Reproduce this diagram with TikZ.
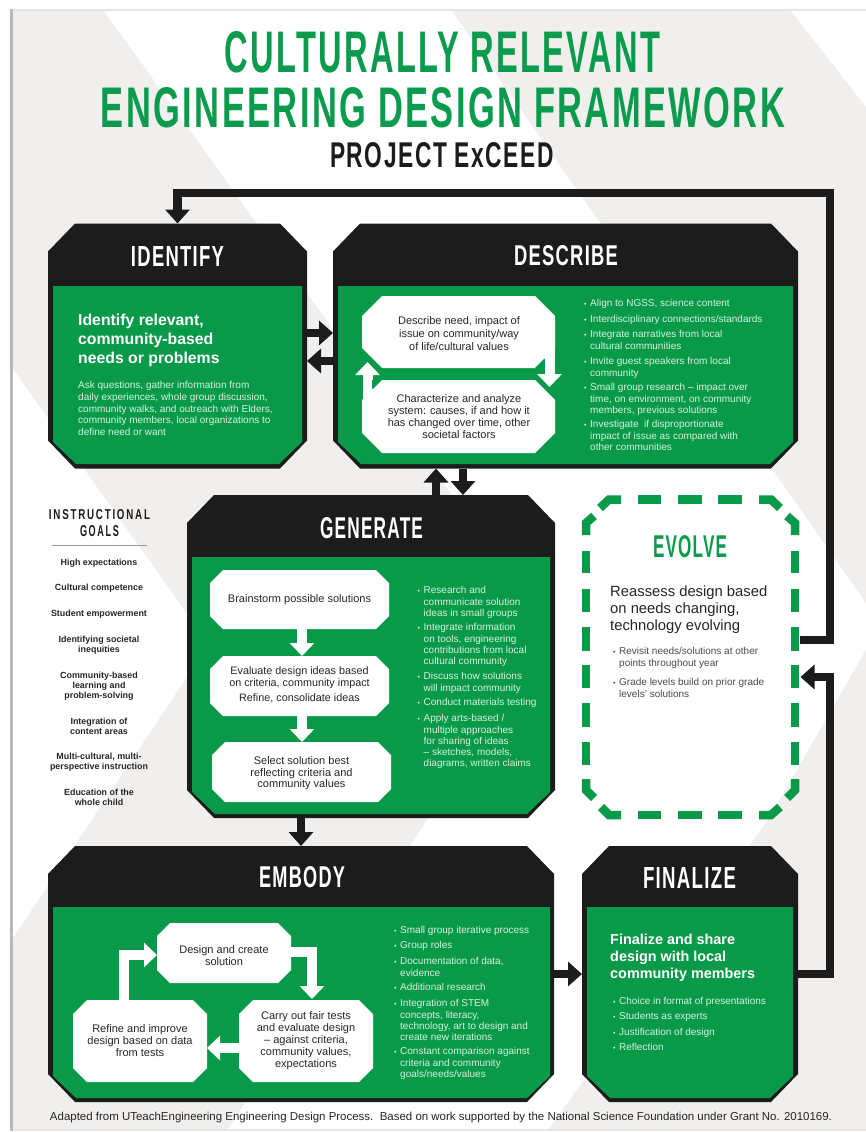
\documentclass[tikz,border=0pt]{standalone}
\usepackage{fontspec}
\usepackage{graphicx}
\setmainfont{Liberation Sans}
\newfontfamily\spacedfont[LetterSpace=18]{Liberation Sans}
\newfontfamily\capfont[LetterSpace=7]{Liberation Sans}
\usetikzlibrary{arrows.meta,calc}
\definecolor{grn}{HTML}{089A48}
\definecolor{ttl}{HTML}{0A9B4C}
\definecolor{blk}{HTML}{1D1C1C}
\definecolor{bggray}{HTML}{F0EFEE}
\definecolor{soft}{HTML}{D9F0DF}
\definecolor{ink}{HTML}{262626}
\definecolor{inkb}{HTML}{4A4A4A}
\newcounter{tn}
\newcommand{\fitbox}[3]{\resizebox{#1pt}{#2pt}{\capfont\bfseries #3}}
\newcommand{\bul}[4]{\stepcounter{tn}\node[bulnode,#1] (b\arabic{tn}) at (#2,#3) {\llap{\scalebox{.7}{•}\hspace{3.6pt}}#4};}
\newcommand{\chamall}[4]{\fill[#2] ($(#1.north west)+(#3,0)$) -- ($(#1.north east)+(-#3,0)$) -- ($(#1.north east)+(0,#4)$) -- ($(#1.south east)+(0,-#4)$) -- ($(#1.south east)+(-#3,0)$) -- ($(#1.south west)+(#3,0)$) -- ($(#1.south west)+(0,-#4)$) -- ($(#1.north west)+(0,#4)$) -- cycle;}
\newcommand{\chambot}[4]{\fill[#2] (#1.north west) -- (#1.north east) -- ($(#1.south east)+(0,-#4)$) -- ($(#1.south east)+(-#3,0)$) -- ($(#1.south west)+(#3,0)$) -- ($(#1.south west)+(0,-#4)$) -- cycle;}
\tikzset{
  boxn/.style={rectangle,draw=none,inner sep=0pt,outer sep=0pt},
  lbl/.style={inner sep=0pt,outer sep=0pt},
  wtxt/.style={inner sep=0pt,align=center,text=ink,font=\fontsize{11}{12}\selectfont},
  goal/.style={inner sep=0pt,align=center,text=ink,font=\bfseries\fontsize{8.9}{10}\selectfont},
  bulnode/.style={anchor=north west,yshift=3.6pt,inner sep=0pt,align=left,text=soft,font=\fontsize{10}{11.2}\selectfont},
  darkbul/.style={text=inkb},
  bigarrow/.style={draw=blk,line width=8.5pt,-{Triangle[width=24pt,length=14pt]}},
  wharrow/.style={draw=white,line width=10pt,-{Triangle[width=24pt,length=13pt]}},
  evd/.style={draw=grn,line width=8.5pt},
}
\begin{document}
\begin{tikzpicture}[x=1pt,y=-1pt]
\useasboundingbox (0,0) rectangle (866,1132);
% page
\fill[white] (0,0) rectangle (866,1132);
\fill[black!10] (10,9) rectangle (866,1131);
\fill[black!28] (10,9) rectangle (13,1131);
\fill[white] (13,11) rectangle (866,1129);
% background bands
\fill[bggray] (13,11) -- (104,11) -- (549,630) -- (228,1129) -- (13,1129) -- (13,938) -- (209,644) -- (13,369) -- cycle;
\fill[bggray] (452,11) -- (791,11) -- (866,107) -- (866,603) -- cycle;
\fill[bggray] (866,650) -- (768,820) -- (549,1129) -- (866,1129) -- cycle;
% title
\node[lbl,text=ttl] (title1) at (442.5,52.5) {\fitbox{435}{41}{CULTURALLY RELEVANT}};
\node[lbl,text=ttl] (title2) at (443,107.5) {\fitbox{684}{40}{ENGINEERING DESIGN FRAMEWORK}};
\node[lbl,text=blk] (title3) at (442,155.5) {\fitbox{224}{25}{PROJECT ExCEED}};
% boxes
\node[boxn,minimum width=259pt,minimum height=245pt] (identify) at (177.5,346) {};
\chamall{identify}{blk}{27}{28}
\node[boxn,minimum width=249pt,minimum height=178pt] (identifyg) at (177.5,375) {};
\chambot{identifyg}{grn}{23}{22}
\node[boxn,minimum width=465pt,minimum height=245pt] (describe) at (565.5,346) {};
\chamall{describe}{blk}{27}{28}
\node[boxn,minimum width=455pt,minimum height=178pt] (describeg) at (565.5,375) {};
\chambot{describeg}{grn}{23}{22}
\node[boxn,minimum width=368pt,minimum height=323pt] (generate) at (371,656.5) {};
\chamall{generate}{blk}{27}{28}
\node[boxn,minimum width=358pt,minimum height=257pt] (generateg) at (371,685.5) {};
\chambot{generateg}{grn}{23}{22}
\node[boxn,minimum width=506pt,minimum height=256pt] (embody) at (301,974) {};
\chamall{embody}{blk}{27}{28}
\node[boxn,minimum width=497pt,minimum height=191pt] (embodyg) at (301.5,1002.5) {};
\chambot{embodyg}{grn}{23}{22}
\node[boxn,minimum width=216pt,minimum height=256pt] (finalize) at (690,974) {};
\chamall{finalize}{blk}{27}{28}
\node[boxn,minimum width=206pt,minimum height=191pt] (finalizeg) at (690,1002.5) {};
\chambot{finalizeg}{grn}{23}{22}
% evolve outline
\node[boxn,minimum width=218pt,minimum height=323pt] (evolve) at (690.5,657.5) {};
\foreach \xa/\xb in {638/661,678/701.5,718/742}{
  \draw[evd] (\xa,499.5) -- (\xb,499.5);
  \draw[evd] (\xa,815) -- (\xb,815);
}
\foreach \ya/\yb in {551/573,589/612,627/651,665/688,703/727,742/765}{
  \draw[evd] (586,\ya) -- (586,\yb);
  \draw[evd] (795,\ya) -- (795,\yb);
}
\draw[evd] (600,508) -- (609,499.5) -- (621,499.5);
\draw[evd] (586,535) -- (586,523) -- (594,516);
\draw[evd] (759,499.5) -- (771,499.5) -- (780,508);
\draw[evd] (787,516) -- (795,523) -- (795,535);
\draw[evd] (586,779) -- (586,790) -- (594,798);
\draw[evd] (601,807) -- (609,815) -- (621,815);
\draw[evd] (759,815) -- (771,815) -- (780,807);
\draw[evd] (787,798) -- (795,790) -- (795,779);
% headers
\node[lbl,text=white] (hident) at (177.5,256) {\fitbox{93}{20}{IDENTIFY}};
\node[lbl,text=white] (hdesc) at (566,256) {\fitbox{104}{20}{DESCRIBE}};
\node[lbl,text=white] (hgen) at (371.5,528) {\fitbox{103}{21}{GENERATE}};
\node[lbl,text=ttl] (hevo) at (690,547) {\fitbox{74}{22}{EVOLVE}};
\node[lbl,text=white] (hemb) at (302,877.5) {\fitbox{86}{21}{EMBODY}};
\node[lbl,text=white] (hfin) at (689.5,877.5) {\fitbox{93}{21}{FINALIZE}};
% connectors
\draw[bigarrow] ($(evolve.east)+(0,-17.5)$) -- (830,640) -- (830,193) -- (177.5,193) -- (identify.north);
\draw[bigarrow] (finalize.east) -- (830,974) -- (830,677) -- ($(evolve.east)+(1,19.5)$);
\draw[bigarrow] ($(identify.east)+(0,-13)$) -- ($(describe.west)+(0,-13)$);
\draw[bigarrow] ($(describe.west)+(0,15)$) -- ($(identify.east)+(0,15)$);
\draw[bigarrow] ($(generate.north)+(65,0)$) -- ($(describe.south)+(-129.5,0)$);
\draw[bigarrow] ($(describe.south)+(-102.5,0)$) -- ($(generate.north)+(92,0)$);
\draw[bigarrow] ($(generate.south)+(-70,0)$) -- (embody.north);
\draw[bigarrow] (embody.east) -- (finalize.west);
% identify text
\node[inner sep=0pt,anchor=north west,align=left,text=white,font=\bfseries\fontsize{15.8}{18.9}\selectfont] (idh) at (78,314) {Identify relevant,\\community-based\\needs or problems};
\node[bulnode,font=\fontsize{10}{11.7}\selectfont] (idp) at (78,385) {Ask questions, gather information from\\daily experiences, whole group discussion,\\community walks, and outreach with Elders,\\community members, local organizations to\\define need or want};
% describe inner
\node[boxn,minimum width=193pt,minimum height=72pt] (da) at (458.5,332) {};
\chamall{da}{white}{20}{20}
\node[boxn,minimum width=193pt,minimum height=73pt] (db) at (458.5,416.5) {};
\chamall{db}{white}{20}{20}
\draw[wharrow] ($(da.south east)+(-5.5,-20)$) -- ($(db.north east)+(-5.5,7)$);
\draw[wharrow] ($(db.north west)+(5.5,20)$) -- ($(da.south west)+(5.5,-6)$);
\fill[grn] (535,368) -- (544,359) -- (544,368) -- cycle;
\fill[grn] (372,380) -- (372,389) -- (381,380) -- cycle;
\node[wtxt,font=\fontsize{11}{13}\selectfont] (dat) at (459,334) {Describe need, impact of\\issue on community/way\\of life/cultural values};
\node[wtxt] (dbt) at (459,417) {Characterize and analyze\\system: causes, if and how it\\has changed over time, other\\societal factors};
\bul{}{590}{303}{Align to NGSS, science content}
\bul{}{590}{319}{Interdisciplinary connections/standards}
\bul{}{590}{334}{Integrate narratives from local\\cultural communities}
\bul{}{590}{361}{Invite guest speakers from local\\community}
\bul{}{590}{387}{Small group research – impact over\\time, on environment, on community\\members, previous solutions}
\bul{}{590}{424}{Investigate\ \ if disproportionate\\impact of issue as compared with\\other communities}
% goals
\node[lbl,text=blk] (g1) at (99.5,515) {\resizebox{101pt}{10pt}{\spacedfont\bfseries INSTRUCTIONAL}};
\node[lbl,text=blk] (g2) at (99.5,531.5) {\resizebox{39pt}{11pt}{\spacedfont\bfseries GOALS}};
\draw[black!40,line width=1pt] (52,545) -- (147,545);
\node[goal] (g3) at (99,563) {High expectations};
\node[goal] (g4) at (99,588) {Cultural competence};
\node[goal] (g5) at (99,614) {Student empowerment};
\node[goal] (g6) at (99,645) {Identifying societal\\inequities};
\node[goal] (g7) at (99,686) {Community-based\\learning and\\problem-solving};
\node[goal] (g8) at (99,726.5) {Integration of\\content areas};
\node[goal] (g9) at (99,762) {Multi-cultural, multi-\\perspective instruction};
\node[goal] (g10) at (99,797) {Education of the\\whole child};
% generate inner
\node[boxn,minimum width=179pt,minimum height=59pt] (ga) at (299.5,599.5) {};
\chamall{ga}{white}{13}{13}
\node[boxn,minimum width=179pt,minimum height=60pt] (gb) at (299.5,686) {};
\chamall{gb}{white}{13}{13}
\node[boxn,minimum width=179pt,minimum height=60pt] (gc) at (301.5,772) {};
\chamall{gc}{white}{13}{13}
\draw[wharrow] ($(ga.south)+(2.5,0)$) -- ($(gb.north)+(2.5,0)$);
\draw[wharrow] ($(gb.south)+(2.5,0)$) -- ($(gc.north)+(0.5,0)$);
\node[wtxt] (gat) at (299.5,600) {Brainstorm possible solutions};
\node[wtxt,font=\fontsize{10.8}{11.6}\selectfont] (gbt) at (299.5,685) {Evaluate design ideas based\\on criteria, community impact\\[3.5pt]Refine, consolidate ideas};
\node[wtxt,font=\fontsize{11}{11.6}\selectfont] (gct) at (301.5,773.5) {Select solution best\\reflecting criteria and\\community values};
\bul{}{423.5}{590}{Research and\\communicate solution\\ideas in small groups}
\bul{}{423.5}{627}{Integrate information\\on tools, engineering\\contributions from local\\cultural community}
\bul{}{423.5}{676}{Discuss how solutions\\will impact community}
\bul{}{423.5}{702}{Conduct materials testing}
\bul{}{423.5}{718}{Apply arts-based /\\multiple approaches\\for sharing of ideas\\– sketches, models,\\diagrams, written claims}
% evolve text
\node[inner sep=0pt,anchor=north west,align=left,text=ink,font=\fontsize{14.8}{16.8}\selectfont] (evh) at (610,585.5) {Reassess design based\\on needs changing,\\technology evolving};
\bul{darkbul}{619}{651}{Revisit needs/solutions at other\\points throughout year}
\bul{darkbul}{619}{682}{Grade levels build on prior grade\\levels' solutions}
% embody inner
\node[boxn,minimum width=134pt,minimum height=60pt] (ea) at (224,953) {};
\chamall{ea}{white}{13}{13}
\node[boxn,minimum width=134pt,minimum height=82pt] (eb) at (140,1041) {};
\chamall{eb}{white}{14}{14}
\node[boxn,minimum width=134pt,minimum height=82pt] (ec) at (306,1041) {};
\chamall{ec}{white}{14}{14}
\draw[wharrow] ($(ea.east)+(-1,-1)$) -- ($(ea.east)+(21,-1)$) -- ($(ec.north)+(6,-1)$);
\draw[wharrow] ($(ec.west)+(1,7)$) -- ($(eb.east)+(0,7)$);
\draw[wharrow] ($(eb.north)+(-16,1)$) -- ($(ea.west)+(-33,2)$) -- ($(ea.west)+(0,2)$);
\node[wtxt] (eat) at (224,956) {Design and create\\solution};
\node[wtxt] (ebt) at (140,1041) {Refine and improve\\design based on data\\from tests};
\node[wtxt] (ect) at (306,1041) {Carry out fair tests\\and evaluate design\\– against criteria,\\community values,\\expectations};
\bul{}{400}{930}{Small group iterative process}
\bul{}{400}{945}{Group roles}
\bul{}{400}{961}{Documentation of data,\\evidence}
\bul{}{400}{987}{Additional research}
\bul{}{400}{1003}{Integration of STEM\\concepts, literacy,\\technology, art to design and\\create new iterations}
\bul{}{400}{1051}{Constant comparison against\\criteria and community\\goals/needs/values}
% finalize text
\node[inner sep=0pt,anchor=north west,align=left,text=white,font=\bfseries\fontsize{14.4}{17}\selectfont] (fih) at (610,934) {Finalize and share\\design with local\\community members};
\bul{}{619}{1001}{Choice in format of presentations}
\bul{}{619}{1016}{Students as experts}
\bul{}{619}{1032}{Justification of design}
\bul{}{619}{1047}{Reflection}
% footer
\node[lbl,text=ink] (foot) at (441,1118) {\resizebox{782pt}{!}{Adapted from UTeachEngineering Engineering Design Process.\ \ Based on work supported by the National Science Foundation under Grant No. 2010169.}};
\end{tikzpicture}
\end{document}
